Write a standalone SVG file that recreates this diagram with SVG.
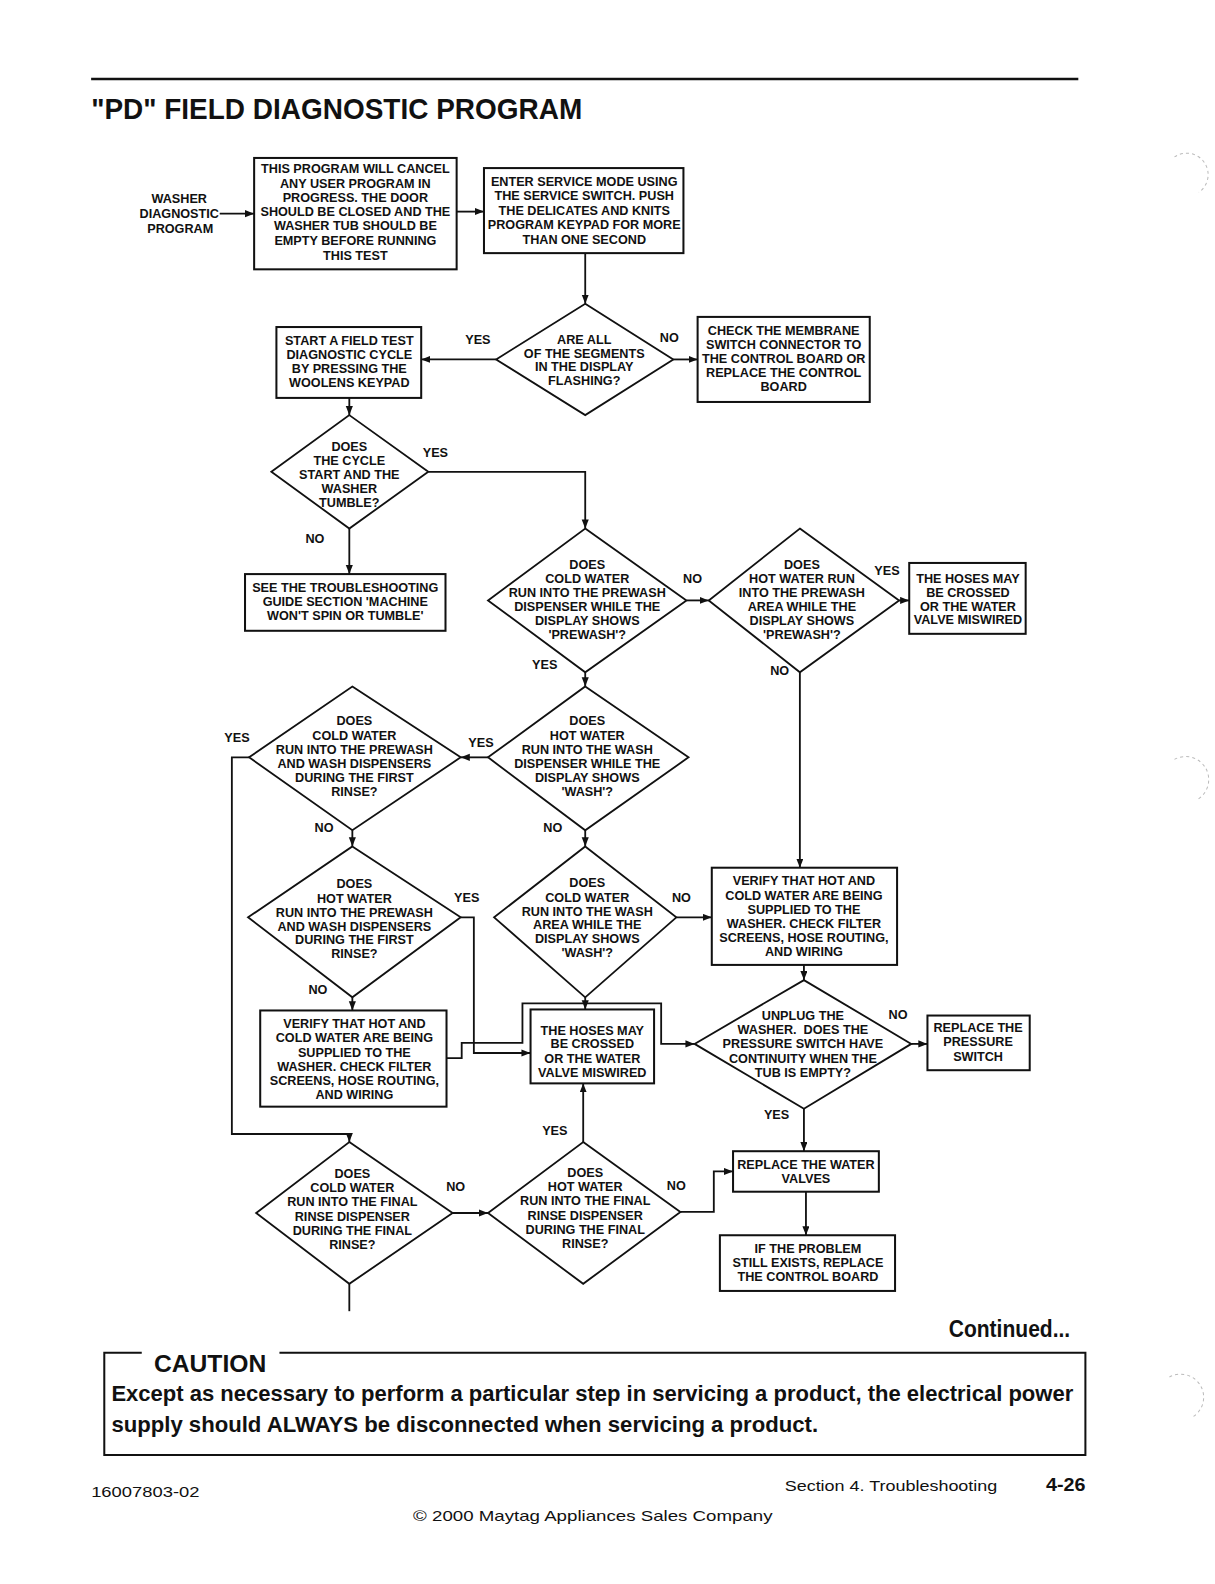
<svg xmlns="http://www.w3.org/2000/svg" width="1215" height="1584" viewBox="0 0 1215 1584">
<defs>
<style>
.box{fill:#fff;stroke:#111;stroke-width:2}
.dia{fill:#fff;stroke:#111;stroke-width:1.8}
.t{font-family:"Liberation Sans",Arial,sans-serif;font-weight:bold;font-size:12.5px;text-anchor:middle;fill:#111}
.c{fill:none;stroke:#111;stroke-width:1.8}
.ca{fill:none;stroke:#111;stroke-width:1.8;marker-end:url(#ah)}
.pg{font-family:"Liberation Sans",Arial,sans-serif;fill:#111}
.art{fill:none;stroke:#bbb;stroke-width:1;stroke-dasharray:3 3}
</style>
<marker id="ah" markerUnits="userSpaceOnUse" markerWidth="10" markerHeight="8" refX="9" refY="3.5" orient="auto">
<path d="M0,0 L9,3.5 L0,7 z" fill="#111"/>
</marker>
</defs>
<rect width="1215" height="1584" fill="#fff"/>
<g transform="scale(1.0125)">
<g id="page">
<line x1="90" y1="78" x2="1065" y2="78" stroke="#111" stroke-width="2.5"/>
<text class="pg" x="90" y="118" font-size="29" font-weight="bold" textLength="485" lengthAdjust="spacingAndGlyphs">"PD" FIELD DIAGNOSTIC PROGRAM</text>
<path class="art" d="M1160,155 A20,20 0 0 1 1184,190"/>
<path class="art" d="M1160,750 A20,20 0 0 1 1182,790"/>
<path class="art" d="M1155,1360 A20,20 0 0 1 1177,1400"/>
</g>

<g id="connectors">
<path class="ca" d="M217,211 H251"/>
<path class="ca" d="M451,209 H478"/>
<path class="ca" d="M578,250 V300"/>
<path class="ca" d="M490,355 H416"/>
<path class="ca" d="M665,355 H689"/>
<path class="ca" d="M345,393 V410"/>
<path class="ca" d="M423,466 H578 V522"/>
<path class="ca" d="M345,522 V567"/>
<path class="ca" d="M678,593 H700"/>
<path class="ca" d="M888,593 H898"/>
<path class="ca" d="M790,664 V857"/>
<path class="ca" d="M578,664 V678"/>
<path class="ca" d="M482,748 H455"/>
<path class="ca" d="M246,748 H229 V1120 H345 V1128"/>
<path class="ca" d="M348,820 V836"/>
<path class="ca" d="M578,820 V836"/>
<path class="ca" d="M455,906 H468 V1040 H524"/>
<path class="ca" d="M668,906 H703"/>
<path class="ca" d="M794,953 V968"/>
<path class="ca" d="M348,985 V998"/>
<path class="ca" d="M578,985 V997"/>
<path class="ca" d="M441,1045 H456 V1030 H516 V991 H653 V1031 H686"/>
<path class="ca" d="M900,1031 H916"/>
<path class="ca" d="M794,1095 V1137"/>
<path class="ca" d="M796,1177 V1220"/>
<path class="c" d="M345,1268 V1295"/>
<path class="ca" d="M447,1198 H482"/>
<path class="ca" d="M576,1128 V1070"/>
<path class="ca" d="M672,1197 H705 V1157 H724"/>
<g class="t">
<text x="472" y="339.5">YES</text>
<text x="661" y="337.5">NO</text>
<text x="430" y="451.5">YES</text>
<text x="311" y="536.5">NO</text>
<text x="684" y="575.5">NO</text>
<text x="876" y="567.5">YES</text>
<text x="538" y="660.5">YES</text>
<text x="770" y="666.5">NO</text>
<text x="234" y="732.5">YES</text>
<text x="475" y="737.5">YES</text>
<text x="320" y="821.5">NO</text>
<text x="546" y="821.5">NO</text>
<text x="461" y="890.5">YES</text>
<text x="673" y="890.5">NO</text>
<text x="314" y="981.5">NO</text>
<text x="887" y="1006.5">NO</text>
<text x="767" y="1105.5">YES</text>
<text x="548" y="1120.5">YES</text>
<text x="450" y="1176.5">NO</text>
<text x="668" y="1175.5">NO</text>
</g>
</g>

<g id="n-start">
<text class="t"><tspan x="177" y="200.5">WASHER</tspan><tspan x="177" y="215.5">DIAGNOSTIC</tspan><tspan x="178" y="230.5">PROGRAM</tspan></text>
</g>

<g id="n-cancel">
<rect class="box" x="251" y="156" width="200" height="110"/>
<text class="t"><tspan x="351" y="171">THIS PROGRAM WILL CANCEL</tspan><tspan x="351" y="185.5">ANY USER PROGRAM IN</tspan><tspan x="351" y="199.5">PROGRESS. THE DOOR</tspan><tspan x="351" y="213.5">SHOULD BE CLOSED AND THE</tspan><tspan x="351" y="227.5">WASHER TUB SHOULD BE</tspan><tspan x="351" y="242">EMPTY BEFORE RUNNING</tspan><tspan x="351" y="256.5">THIS TEST</tspan></text>
</g>

<g id="n-service">
<rect class="box" x="478" y="166" width="197" height="84"/>
<text class="t"><tspan x="577" y="183.5">ENTER SERVICE MODE USING</tspan><tspan x="577" y="197.5">THE SERVICE SWITCH. PUSH</tspan><tspan x="577" y="212">THE DELICATES AND KNITS</tspan><tspan x="577" y="226.5">PROGRAM KEYPAD FOR MORE</tspan><tspan x="577" y="240.5">THAN ONE SECOND</tspan></text>
</g>

<g id="n-segments">
<polygon class="dia" points="578,300 665,355 578,410 490,355"/>
<text class="t"><tspan x="577" y="339.5">ARE ALL</tspan><tspan x="577" y="353.5">OF THE SEGMENTS</tspan><tspan x="577" y="366.5">IN THE DISPLAY</tspan><tspan x="577" y="380.5">FLASHING?</tspan></text>
</g>

<g id="n-fieldtest">
<rect class="box" x="273" y="323" width="143" height="70"/>
<text class="t"><tspan x="345" y="340.5">START A FIELD TEST</tspan><tspan x="345" y="354.5">DIAGNOSTIC CYCLE</tspan><tspan x="345" y="368.5">BY PRESSING THE</tspan><tspan x="345" y="382.5">WOOLENS KEYPAD</tspan></text>
</g>

<g id="n-membrane">
<rect class="box" x="689" y="313" width="170" height="84"/>
<text class="t"><tspan x="774" y="330.5">CHECK THE MEMBRANE</tspan><tspan x="774" y="344.5">SWITCH CONNECTOR TO</tspan><tspan x="774" y="358.5">THE CONTROL BOARD OR</tspan><tspan x="774" y="372.5">REPLACE THE CONTROL</tspan><tspan x="774" y="386.5">BOARD</tspan></text>
</g>

<g id="n-tumble">
<polygon class="dia" points="345,410 423,466 345,522 268,466"/>
<text class="t"><tspan x="345" y="445.5">DOES</tspan><tspan x="345" y="459.5">THE CYCLE</tspan><tspan x="345" y="473.5">START AND THE</tspan><tspan x="345" y="486.5">WASHER</tspan><tspan x="345" y="500.5">TUMBLE?</tspan></text>
</g>

<g id="n-troubleshoot">
<rect class="box" x="242" y="567" width="198" height="56"/>
<text class="t"><tspan x="341" y="584.5">SEE THE TROUBLESHOOTING</tspan><tspan x="341" y="598.5">GUIDE SECTION 'MACHINE</tspan><tspan x="341" y="612.5">WON'T SPIN OR TUMBLE'</tspan></text>
</g>

<g id="n-cold-prewash">
<polygon class="dia" points="578,522 678,593 578,664 482,593"/>
<text class="t"><tspan x="580" y="561.5">DOES</tspan><tspan x="580" y="575.5">COLD WATER</tspan><tspan x="580" y="589.5">RUN INTO THE PREWASH</tspan><tspan x="580" y="603.5">DISPENSER WHILE THE</tspan><tspan x="580" y="617.5">DISPLAY SHOWS</tspan><tspan x="580" y="631.5">'PREWASH'?</tspan></text>
</g>

<g id="n-hot-prewash">
<polygon class="dia" points="790,522 888,593 790,664 700,593"/>
<text class="t"><tspan x="792" y="561.5">DOES</tspan><tspan x="792" y="575.5">HOT WATER RUN</tspan><tspan x="792" y="589.5">INTO THE PREWASH</tspan><tspan x="792" y="603.5">AREA WHILE THE</tspan><tspan x="792" y="617.5">DISPLAY SHOWS</tspan><tspan x="792" y="631.5">'PREWASH'?</tspan></text>
</g>

<g id="n-hoses1">
<rect class="box" x="898" y="556" width="115" height="70"/>
<text class="t"><tspan x="956" y="575.5">THE HOSES MAY</tspan><tspan x="956" y="589.5">BE CROSSED</tspan><tspan x="956" y="603.5">OR THE WATER</tspan><tspan x="956" y="616.5">VALVE MISWIRED</tspan></text>
</g>

<g id="n-hot-wash">
<polygon class="dia" points="578,678 680,748 578,820 482,748"/>
<text class="t"><tspan x="580" y="716.5">DOES</tspan><tspan x="580" y="730.5">HOT WATER</tspan><tspan x="580" y="744.5">RUN INTO THE WASH</tspan><tspan x="580" y="758.5">DISPENSER WHILE THE</tspan><tspan x="580" y="772.5">DISPLAY SHOWS</tspan><tspan x="580" y="786.5">'WASH'?</tspan></text>
</g>

<g id="n-cold-first-rinse">
<polygon class="dia" points="348,678 455,748 348,820 246,748"/>
<text class="t"><tspan x="350" y="716.5">DOES</tspan><tspan x="350" y="730.5">COLD WATER</tspan><tspan x="350" y="744.5">RUN INTO THE PREWASH</tspan><tspan x="350" y="758.5">AND WASH DISPENSERS</tspan><tspan x="350" y="772.5">DURING THE FIRST</tspan><tspan x="350" y="786.5">RINSE?</tspan></text>
</g>

<g id="n-hot-first-rinse">
<polygon class="dia" points="348,836 455,906 348,985 245,906"/>
<text class="t"><tspan x="350" y="877.5">DOES</tspan><tspan x="350" y="891.5">HOT WATER</tspan><tspan x="350" y="905.5">RUN INTO THE PREWASH</tspan><tspan x="350" y="919.5">AND WASH DISPENSERS</tspan><tspan x="350" y="932.5">DURING THE FIRST</tspan><tspan x="350" y="946.5">RINSE?</tspan></text>
</g>

<g id="n-cold-wash">
<polygon class="dia" points="578,836 668,906 578,985 488,906"/>
<text class="t"><tspan x="580" y="876.5">DOES</tspan><tspan x="580" y="890.5">COLD WATER</tspan><tspan x="580" y="904.5">RUN INTO THE WASH</tspan><tspan x="580" y="917.5">AREA WHILE THE</tspan><tspan x="580" y="931.5">DISPLAY SHOWS</tspan><tspan x="580" y="945.5">'WASH'?</tspan></text>
</g>

<g id="n-verify-right">
<rect class="box" x="703" y="857" width="183" height="96"/>
<text class="t"><tspan x="794" y="874.5">VERIFY THAT HOT AND</tspan><tspan x="794" y="888.5">COLD WATER ARE BEING</tspan><tspan x="794" y="902.5">SUPPLIED TO THE</tspan><tspan x="794" y="916.5">WASHER. CHECK FILTER</tspan><tspan x="794" y="930.5">SCREENS, HOSE ROUTING,</tspan><tspan x="794" y="944.5">AND WIRING</tspan></text>
</g>

<g id="n-verify-left">
<rect class="box" x="257" y="998" width="184" height="95"/>
<text class="t"><tspan x="350" y="1015.5">VERIFY THAT HOT AND</tspan><tspan x="350" y="1029.5">COLD WATER ARE BEING</tspan><tspan x="350" y="1043.5">SUPPLIED TO THE</tspan><tspan x="350" y="1057.5">WASHER. CHECK FILTER</tspan><tspan x="350" y="1071.5">SCREENS, HOSE ROUTING,</tspan><tspan x="350" y="1085.5">AND WIRING</tspan></text>
</g>

<g id="n-hoses2">
<rect class="box" x="524" y="997" width="122" height="73"/>
<text class="t"><tspan x="585" y="1022.5">THE HOSES MAY</tspan><tspan x="585" y="1035.5">BE CROSSED</tspan><tspan x="585" y="1049.5">OR THE WATER</tspan><tspan x="585" y="1063.5">VALVE MISWIRED</tspan></text>
</g>

<g id="n-pressure">
<polygon class="dia" points="794,968 900,1031 794,1095 686,1031"/>
<text class="t"><tspan x="793" y="1007.5">UNPLUG THE</tspan><tspan x="793" y="1021.5">WASHER.&#160; DOES THE</tspan><tspan x="793" y="1035.5">PRESSURE SWITCH HAVE</tspan><tspan x="793" y="1049.5">CONTINUITY WHEN THE</tspan><tspan x="793" y="1063.5">TUB IS EMPTY?</tspan></text>
</g>

<g id="n-replace-pressure">
<rect class="box" x="916" y="1003" width="101" height="54"/>
<text class="t"><tspan x="966" y="1019.5">REPLACE THE</tspan><tspan x="966" y="1033.5">PRESSURE</tspan><tspan x="966" y="1047.5">SWITCH</tspan></text>
</g>

<g id="n-replace-valves">
<rect class="box" x="724" y="1137" width="144" height="40"/>
<text class="t"><tspan x="796" y="1154.5">REPLACE THE WATER</tspan><tspan x="796" y="1168.5">VALVES</tspan></text>
</g>

<g id="n-control-board">
<rect class="box" x="711" y="1220" width="173" height="55"/>
<text class="t"><tspan x="798" y="1237.5">IF THE PROBLEM</tspan><tspan x="798" y="1251.5">STILL EXISTS, REPLACE</tspan><tspan x="798" y="1265.5">THE CONTROL BOARD</tspan></text>
</g>

<g id="n-cold-final">
<polygon class="dia" points="345,1128 447,1198 345,1268 253,1198"/>
<text class="t"><tspan x="348" y="1163.5">DOES</tspan><tspan x="348" y="1177.5">COLD WATER</tspan><tspan x="348" y="1191.5">RUN INTO THE FINAL</tspan><tspan x="348" y="1205.5">RINSE DISPENSER</tspan><tspan x="348" y="1219.5">DURING THE FINAL</tspan><tspan x="348" y="1233.5">RINSE?</tspan></text>
</g>

<g id="n-hot-final">
<polygon class="dia" points="576,1128 672,1197 576,1268 482,1198"/>
<text class="t"><tspan x="578" y="1162.5">DOES</tspan><tspan x="578" y="1176.5">HOT WATER</tspan><tspan x="578" y="1190.5">RUN INTO THE FINAL</tspan><tspan x="578" y="1204.5">RINSE DISPENSER</tspan><tspan x="578" y="1218.5">DURING THE FINAL</tspan><tspan x="578" y="1232.5">RINSE?</tspan></text>
</g>

<g id="caution">
<text class="pg" x="1057" y="1320" font-size="23" font-weight="bold" text-anchor="end" textLength="120" lengthAdjust="spacingAndGlyphs">Continued...</text>
<path d="M140,1336 H103 V1437 H1072 V1336 H276" fill="none" stroke="#111" stroke-width="2"/>
<text class="pg" x="152" y="1355" font-size="24" font-weight="bold" textLength="111" lengthAdjust="spacingAndGlyphs">CAUTION</text>
<text class="pg" x="110" y="1384" font-size="22" font-weight="bold" textLength="950" lengthAdjust="spacingAndGlyphs">Except as necessary to perform a particular step in servicing a product, the electrical power</text>
<text class="pg" x="110" y="1414" font-size="22" font-weight="bold" textLength="698" lengthAdjust="spacingAndGlyphs">supply should ALWAYS be disconnected when servicing a product.</text>
</g>

<g id="footer">
<text class="pg" x="90" y="1479" font-size="15" textLength="107" lengthAdjust="spacingAndGlyphs">16007803-02</text>
<text class="pg" x="775" y="1473" font-size="15" textLength="210" lengthAdjust="spacingAndGlyphs">Section 4.  Troubleshooting</text>
<text class="pg" x="1033" y="1473" font-size="18" font-weight="bold" textLength="39" lengthAdjust="spacingAndGlyphs">4-26</text>
<text class="pg" x="408" y="1502" font-size="15" textLength="355" lengthAdjust="spacingAndGlyphs">© 2000 Maytag Appliances Sales Company</text>
</g>
</g>
</svg>
